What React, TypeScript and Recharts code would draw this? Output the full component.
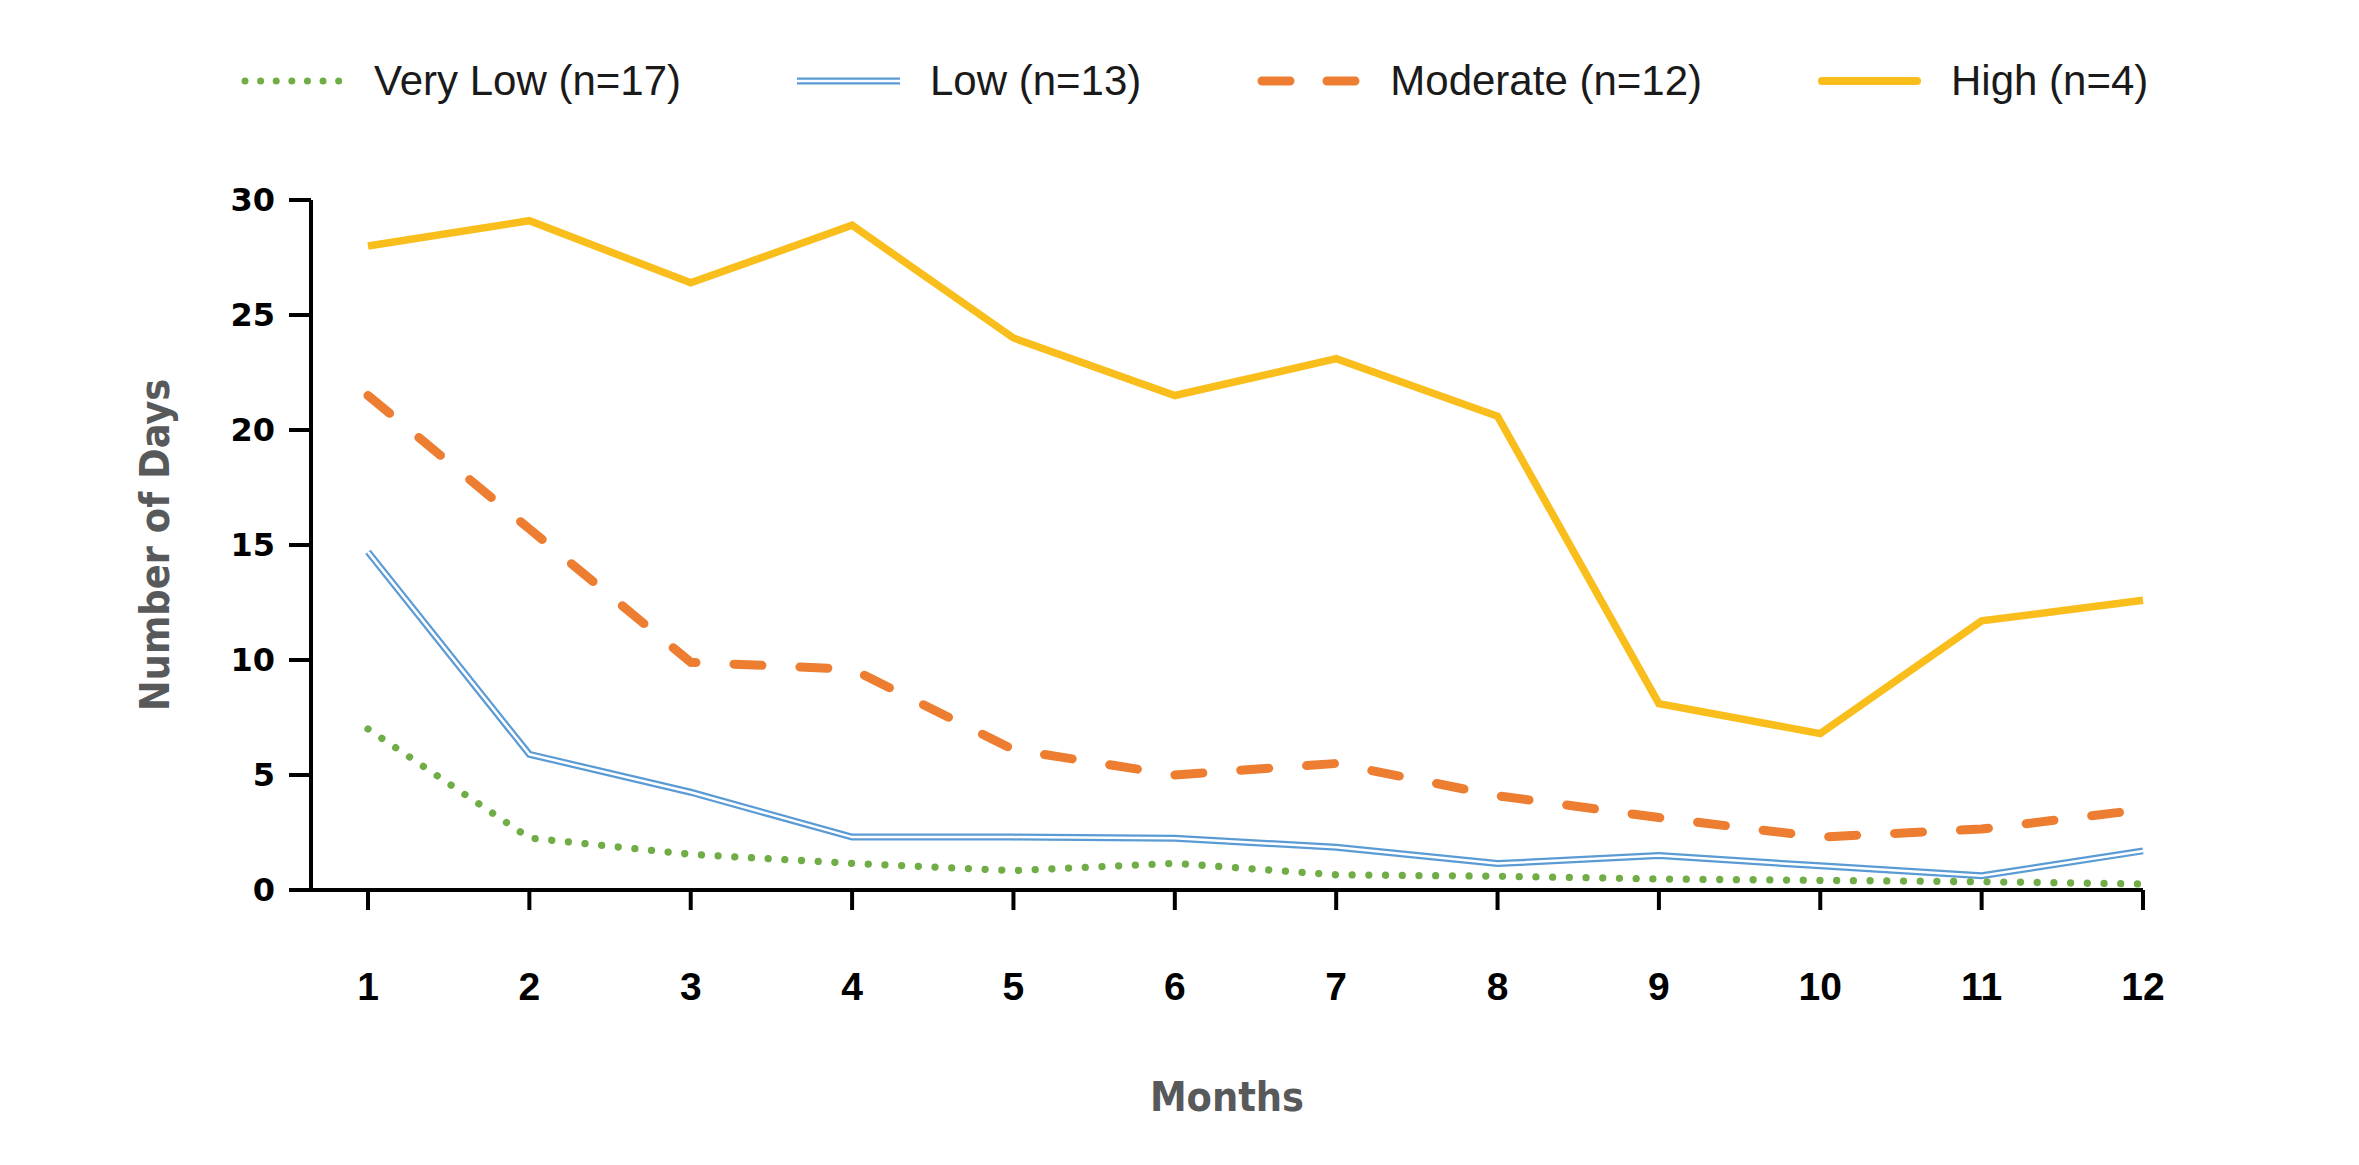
import React from 'react';
import { LineChart, Line, XAxis, YAxis, Legend } from 'recharts';

const months = [1, 2, 3, 4, 5, 6, 7, 8, 9, 10, 11, 12];
const veryLow = [7.0, 2.26, 1.55, 1.16, 0.84, 1.16, 0.66, 0.6, 0.48, 0.42, 0.36, 0.26];
const low = [14.7, 5.9, 4.25, 2.3, 2.3, 2.25, 1.86, 1.15, 1.5, 1.05, 0.62, 1.7];
const moderate = [21.5, 15.7, 9.9, 9.6, 6.1, 5.0, 5.5, 4.1, 3.15, 2.3, 2.65, 3.5];
const high = [28.0, 29.1, 26.4, 28.9, 24.0, 21.5, 23.1, 20.6, 8.1, 6.8, 11.7, 12.6];
const yTicks = [0, 5, 10, 15, 20, 25, 30];

const seriesNames = {
  veryLow: 'Very Low (n=17)',
  low: 'Low (n=13)',
  moderate: 'Moderate (n=12)',
  high: 'High (n=4)',
};

const GREEN = '#70ad47';
const BLUE = '#5b9bd5';
const ORANGE = '#ed7d31';
const YELLOW = '#f9be1b';

const data = months.map((m, i) => ({
  month: m,
  veryLow: veryLow[i],
  low: low[i],
  moderate: moderate[i],
  high: high[i],
}));

const legendItems = [
  { key: 'veryLow', label: seriesNames.veryLow },
  { key: 'low', label: seriesNames.low },
  { key: 'moderate', label: seriesNames.moderate },
  { key: 'high', label: seriesNames.high },
];

function Sample({ kind }: { kind: string }) {
  const w = 103;
  const h = 20;
  const y = h / 2;
  if (kind === 'veryLow') {
    return (
      <svg width={w} height={h}>
        <line x1={4} y1={y} x2={w - 4} y2={y} stroke={GREEN} strokeWidth={7} strokeDasharray="0.01 15.6" strokeLinecap="round" />
      </svg>
    );
  }
  if (kind === 'low') {
    return (
      <svg width={w} height={h}>
        <line x1={0} y1={y} x2={w} y2={y} stroke={BLUE} strokeWidth={7} />
        <line x1={0} y1={y} x2={w} y2={y} stroke="#fff" strokeWidth={2.5} />
      </svg>
    );
  }
  if (kind === 'moderate') {
    return (
      <svg width={w} height={h}>
        <line x1={5} y1={y} x2={w - 5} y2={y} stroke={ORANGE} strokeWidth={9} strokeDasharray="28 37" strokeLinecap="round" />
      </svg>
    );
  }
  return (
    <svg width={w} height={h}>
      <line x1={4} y1={y} x2={w - 4} y2={y} stroke={YELLOW} strokeWidth={8} strokeLinecap="round" />
    </svg>
  );
}

const renderLegend = () => (
  <div style={{ display: 'flex', alignItems: 'center', paddingLeft: 233 }}>
    {legendItems.map((it, i) => (
      <div key={it.key} style={{ display: 'flex', alignItems: 'center', marginRight: i < legendItems.length - 1 ? 116 : 0 }}>
        <Sample kind={it.key} />
        <span style={{ marginLeft: 30, fontFamily: '"Liberation Sans", Arial, sans-serif', fontSize: 42, color: '#1a1a1a', whiteSpace: 'nowrap', lineHeight: '48px' }}>
          {it.label}
        </span>
      </div>
    ))}
  </div>
);

const YLabel = (props: any) => {
  const vb = props.viewBox || { x: 100, y: 192, width: 203, height: 690 };
  const cx = vb.x + 47;
  const cy = vb.y + vb.height / 2;
  return (
    <text
      x={cx}
      y={cy}
      transform={`rotate(-90, ${cx}, ${cy})`}
      textAnchor="middle"
      dominantBaseline="central"
      style={{ fontFamily: '"DejaVu Sans Condensed", "DejaVu Sans", sans-serif', fontStretch: 'condensed', fontWeight: 700, fontSize: 41, fill: '#58595b' }}
    >
      Number of Days
    </text>
  );
};

const XLabel = (props: any) => {
  const vb = props.viewBox || { x: 303, y: 882, width: 1838, height: 230 };
  const cx = vb.x + vb.width / 2;
  const cy = vb.y + 207;
  return (
    <text
      x={cx}
      y={cy}
      textAnchor="middle"
      dominantBaseline="central"
      style={{ fontFamily: '"DejaVu Sans Condensed", "DejaVu Sans", sans-serif', fontStretch: 'condensed', fontWeight: 700, fontSize: 41, fill: '#58595b' }}
    >
      Months
    </text>
  );
};

export default function App() {
  return (
    <div style={{ width: 2343, height: 1149, background: '#fff' }}>
      <LineChart width={2343} height={1149} data={data} margin={{ top: 192, right: 208, bottom: 37, left: 100 }}>
        <XAxis
          dataKey="month"
          type="number"
          domain={[1, 12]}
          ticks={months}
          padding={{ left: 57, right: 0 }}
          height={230}
          tickSize={20}
          tickMargin={62}
          axisLine={{ stroke: '#000', strokeWidth: 4 }}
          tickLine={{ stroke: '#000', strokeWidth: 4 }}
          tick={{ fontFamily: '"Liberation Sans", Arial, sans-serif', fontWeight: 700, fontSize: 39, fill: '#000' }}
          label={<XLabel />}
        />
        <YAxis
          domain={[0, 30]}
          ticks={yTicks}
          width={203}
          tickSize={22}
          tickMargin={14}
          axisLine={{ stroke: '#000', strokeWidth: 4 }}
          tickLine={{ stroke: '#000', strokeWidth: 4 }}
          tick={{ fontFamily: '"DejaVu Sans", sans-serif', fontWeight: 700, fontSize: 32, fill: '#000' }}
          label={<YLabel />}
        />
        <Legend verticalAlign="middle" align="center" layout="horizontal" content={renderLegend} wrapperStyle={{ top: 49, left: 0, width: 2343 }} />
        <Line type="linear" dataKey="high" name={seriesNames.high} stroke={YELLOW} strokeWidth={7.5} dot={false} activeDot={false} isAnimationActive={false} />
        <Line type="linear" dataKey="moderate" name={seriesNames.moderate} stroke={ORANGE} strokeWidth={9} strokeDasharray="28 38" strokeLinecap="round" dot={false} activeDot={false} isAnimationActive={false} />
        <Line type="linear" dataKey="low" name={seriesNames.low} stroke={BLUE} strokeWidth={7} dot={false} activeDot={false} isAnimationActive={false} />
        <Line type="linear" dataKey="low" name="low-inner" stroke="#fff" strokeWidth={2.5} dot={false} activeDot={false} legendType="none" isAnimationActive={false} />
        <Line type="linear" dataKey="veryLow" name={seriesNames.veryLow} stroke={GREEN} strokeWidth={7.3} strokeDasharray="0.01 16.7" strokeLinecap="round" dot={false} activeDot={false} isAnimationActive={false} />
      </LineChart>
    </div>
  );
}
